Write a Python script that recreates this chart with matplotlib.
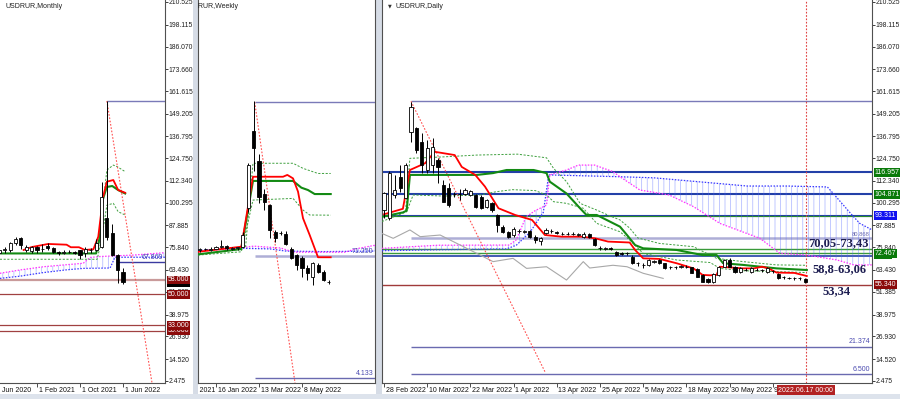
import numpy as np
import matplotlib
matplotlib.use('Agg')
import matplotlib.pyplot as plt
from matplotlib.transforms import Bbox, blended_transform_factory
from matplotlib.patches import Polygon, Rectangle

plt.rcParams['font.family'] = ['Liberation Sans', 'DejaVu Sans']
plt.rcParams['hatch.linewidth'] = 0.5

# ---------------- shared price scale ----------------
price_ticks = [2.475, 14.520, 26.930, 38.975, 51.385, 63.430, 75.840, 87.885, 100.295,
               112.340, 124.750, 136.795, 149.205, 161.615, 173.660, 186.070, 198.115, 210.525]

# ---------------- monthly (index 0 = Feb 2021) ----------------
m_idx = list(range(-7, 17))
m_open = [72.5, 74.4, 74.4, 78.0, 81.1, 74.4, 74.0, 75.8, 75.0, 76.5, 75.3, 73.4,
          73.0, 73.3, 73.4, 74.4, 72.6, 74.5, 74.4, 76.2, 92.0, 83.7, 71.6, 62.3]
m_high = [75.0, 76.0, 79.0, 81.5, 81.6, 77.0, 76.5, 76.5, 77.5, 78.4, 76.0, 74.0,
          74.5, 74.5, 73.8, 74.5, 75.8, 75.3, 80.4, 111.5, 156.2, 88.5, 72.0, 64.5]
m_low = [71.5, 72.8, 73.5, 77.0, 75.0, 73.5, 73.0, 73.0, 73.5, 74.5, 72.9, 71.5,
         72.4, 72.8, 72.0, 69.5, 70.6, 72.7, 74.0, 75.5, 80.0, 71.0, 56.5, 55.5]
m_close = [74.2, 75.0, 78.2, 80.2, 77.1, 76.2, 75.8, 74.5, 75.1, 75.5, 73.5, 73.0,
           73.3, 73.5, 72.8, 71.6, 74.8, 74.3, 78.0, 103.6, 81.5, 71.6, 63.4, 56.8]
m_tick_idx = [-8, 0, 8, 16]
m_tick_lbl = ['1 Jun 2020', '1 Feb 2021', '1 Oct 2021', '1 Jun 2022']

m_tenkan_x = [-2.5, -1, 2.1, 5.5, 6.3, 7.8, 8.9, 10.5, 11.4, 12.3, 13, 14.2, 15.1, 16.4]
m_tenkan_y = [74.4, 76.0, 77.7, 77.3, 75.9, 75.9, 74.4, 74.8, 81.7, 103.6, 111.9, 112.8, 107.3, 105.8]
m_kijun_x = [-6.9, 11, 11.7, 12.2, 13, 14, 15.1, 16.4]
m_kijun_y = [72.5, 72.5, 81.7, 101.8, 109, 109.5, 107.3, 105.4]
m_upper_x = [11.4, 12.3, 13, 14.2, 15, 16.4]
m_upper_y = [74, 100, 118.3, 121, 120, 117.4]
m_lower_x = [-6.9, 11.2, 12, 13, 14.2, 15.1, 16.4]
m_lower_y = [69.3, 69.3, 80, 99, 100, 95.4, 93.6]
m_spanA_x = [-6.9, -3.2, 1.2, 5.5, 8.6, 13.6, 14.5, 23.8]
m_spanA_y = [58.8, 60.0, 62.0, 63.5, 64.3, 64.5, 70.4, 70.4]
m_spanB_x = [-6.9, -3.2, 1.2, 8.6, 9.9, 11.7, 17.9, 23.8]
m_spanB_y = [61.6, 63.4, 65.2, 67.1, 70.3, 70.8, 71.6, 72.9]
m_levels_dark = [50.0, 33.0, 30.0]
m_level_rose = 58.0
m_level_top = 156.2
m_level_blue = 67.869
m_fibo_line = [(13, 156.2), (21.4, 1.38)]

# ---------------- weekly (index 0 = 16 Jan 2022) ----------------
w_idx = list(range(-3, 22))
w_open = [74.5, 75.0, 74.6, 75.2, 76.0, 76.6, 75.0, 75.4, 76.2, 97.4, 139.5, 123.0, 105.0,
          99.0, 84.3, 83.5, 83.0, 75.0, 71.6, 70.0, 64.5, 59.6, 66.2, 62.3, 57.0]
w_high = [75.5, 75.6, 76.0, 76.5, 80.0, 77.0, 76.0, 76.2, 84.4, 122.0, 156.0, 127.0, 108.0,
          99.5, 85.5, 85.0, 85.0, 76.2, 72.0, 71.0, 66.0, 68.0, 67.0, 63.2, 57.8]
w_low = [73.5, 74.4, 74.0, 74.8, 75.5, 74.5, 74.3, 74.6, 75.8, 95.0, 118.0, 100.0, 96.3,
         81.0, 79.0, 82.5, 77.0, 69.6, 63.5, 59.6, 57.9, 55.2, 62.0, 57.5, 55.8]
w_close = [74.8, 75.1, 75.2, 76.0, 76.4, 75.3, 75.4, 75.8, 82.6, 121.0, 130.3, 103.5, 100.7,
           85.4, 81.0, 83.7, 77.7, 70.0, 66.2, 64.5, 61.8, 67.0, 62.3, 57.9, 56.8]
w_tick_idx = [-8, 0, 8, 16]
w_tick_lbl = ['21 Nov 2021', '16 Jan 2022', '13 Mar 2022', '8 May 2022']

w_tenkan_x = [-3.35, 4.71, 6.88, 12.47, 13.27, 14.33, 15.26, 16.19, 17.43, 18.98, 21.34]
w_tenkan_y = [73.4, 76.2, 114.6, 114.6, 115.6, 113.7, 106.4, 91.8, 82.6, 70.4, 70.4]
w_kijun_x = [-3.35, 4.71, 6.88, 14.33, 15.88, 17.12, 18.36, 21.34]
w_kijun_y = [72.0, 74.9, 112.3, 112.3, 108.6, 107.3, 105.1, 105.1]
w_upper_x = [5.5, 6.88, 14.33, 16.19, 18.98, 21.34]
w_upper_y = [76.0, 122.0, 122.0, 119.2, 116.4, 116.4]
w_lower_x = [-3.35, 4.71, 6.88, 14.33, 16.19, 17.43, 21.34]
w_lower_y = [71.6, 73.4, 101.8, 102.7, 96.3, 93.6, 93.5]
w_spanA_x = [-3.35, 5, 10, 13, 20, 29.6]
w_spanA_y = [74.2, 75.3, 75.0, 73.8, 73.5, 73.8]
w_spanB_x = [-3.35, 5, 7, 12, 14.5, 24, 26, 29.6]
w_spanB_y = [73.5, 75.8, 76.5, 75.5, 73.2, 73.2, 75.0, 77.0]
w_level_top = 155.6
w_level_mid = 71.25
w_level_low = 4.133
w_fibo_line = [(7.2, 155.6), (14.7, 1.38)]

# ---------------- daily (index 0 = 28 Feb 2022) ----------------
d_ohlc = [
    (96.3, 106.0, 92.0, 105.7), (92.0, 117.5, 91.0, 116.6), (104.6, 115.6, 102.7, 107.3),
    (114.5, 121.0, 106.4, 108.4), (103.0, 121.9, 102.7, 121.0), (139.2, 155.8, 133.8, 152.9),
    (141.3, 141.8, 127.5, 129.3), (133.8, 138.6, 116.6, 121.0), (118.3, 134.8, 116.4, 130.5),
    (121.0, 135.8, 116.4, 131.0), (123.8, 125.0, 111.2, 120.1), (110.0, 112.8, 100.9, 100.9),
    (108.2, 110.9, 98.2, 99.0), (105.0, 106.4, 103.6, 105.1), (105.0, 107.7, 101.8, 105.2),
    (105.0, 108.2, 104.6, 107.3), (104.6, 107.3, 104.0, 106.8), (104.6, 105.0, 97.5, 98.2),
    (103.6, 104.6, 96.8, 97.3), (98.2, 102.5, 97.5, 101.8), (100.0, 100.5, 95.5, 96.3),
    (93.6, 94.0, 84.4, 88.1), (87.2, 88.0, 83.5, 84.4), (84.4, 85.0, 80.8, 81.7),
    (82.6, 87.0, 81.7, 85.9), (84.8, 86.0, 83.5, 85.0), (84.4, 85.4, 83.5, 84.5),
    (84.8, 85.4, 81.0, 81.7), (81.7, 82.6, 78.0, 79.9), (79.2, 81.7, 77.0, 80.9),
    (83.7, 86.5, 83.0, 85.4), (84.6, 85.8, 83.8, 84.8), (84.3, 84.8, 83.0, 83.5),
    (83.2, 84.0, 82.4, 83.3), (83.2, 84.0, 82.5, 83.1), (83.2, 84.2, 82.5, 83.3),
    (82.5, 83.8, 82.0, 83.2), (81.7, 84.4, 81.2, 83.2), (83.0, 83.5, 81.0, 81.5),
    (80.4, 81.0, 76.5, 77.1), (75.3, 76.5, 74.5, 75.4), (74.8, 76.0, 74.3, 75.5),
    (75.3, 76.0, 74.5, 75.2), (73.5, 74.0, 71.0, 71.6), (72.8, 73.5, 71.8, 72.2),
    (72.5, 73.2, 71.8, 72.6), (70.7, 71.5, 66.8, 67.1), (67.1, 67.8, 65.5, 67.2),
    (66.2, 67.0, 64.5, 66.3), (66.2, 69.5, 65.8, 68.9), (68.0, 68.8, 67.2, 68.1),
    (68.9, 69.3, 66.8, 67.1), (67.1, 67.5, 64.0, 64.5), (64.9, 65.8, 64.0, 65.0),
    (64.9, 65.6, 64.2, 64.8), (65.2, 66.0, 64.5, 65.3), (65.2, 65.9, 64.4, 65.1),
    (64.9, 65.3, 61.5, 62.0), (64.0, 64.3, 59.3, 59.7), (60.7, 61.2, 56.6, 57.0),
    (58.5, 59.0, 56.2, 56.8), (57.0, 61.5, 56.0, 61.0), (60.7, 65.8, 60.3, 65.2),
    (65.2, 69.5, 64.8, 68.9), (68.9, 70.0, 64.8, 65.2), (65.2, 65.8, 62.0, 62.5),
    (62.5, 64.8, 62.0, 64.3), (63.5, 64.3, 62.8, 63.6), (62.5, 64.8, 62.0, 64.5),
    (63.5, 64.3, 62.8, 63.4), (63.2, 63.9, 62.5, 63.3), (62.3, 64.8, 62.0, 64.5),
    (62.8, 63.5, 62.0, 62.7), (61.2, 61.6, 58.4, 58.8), (59.4, 60.2, 58.6, 59.3),
    (59.0, 59.8, 58.2, 59.1), (58.8, 59.6, 58.0, 58.9), (58.8, 59.5, 58.0, 58.8),
    (58.3, 58.8, 56.0, 57.0)]
d_tick_idx = [0, 8, 16, 24, 32, 40, 48, 56, 64, 72]
d_tick_lbl = ['28 Feb 2022', '10 Mar 2022', '22 Mar 2022', '1 Apr 2022', '13 Apr 2022',
              '25 Apr 2022', '5 May 2022', '18 May 2022', '30 May 2022', '9 Jun 2022']
d_current_idx = 78.1
d_current_lbl = '2022.06.17 00:00'

d_tenkan_x = [0, 3.5, 4.8, 7.6, 9.4, 13.1, 14.4, 16.9, 18.7, 21.2, 24.3, 27.4, 29.8, 32.9,
              36.6, 39.1, 41.5, 45.5, 46.5, 48, 51, 54.2, 57.3, 59, 60.4, 61.6, 62.2, 66.5,
              68.5, 70, 71.2, 72.7, 76, 78.3]
d_tenkan_y = [94, 97, 118.3, 122, 128.3, 126.5, 120, 115.6, 109.2, 97.3, 93.6, 90.9, 82.6,
              81.7, 81.7, 80.8, 79, 78.5, 74.4, 69.8, 69.5, 67.1, 64.3, 60.7, 60.5, 60.7,
              65.2, 64.3, 64.3, 65.2, 64.3, 62, 61.8, 60.1]
d_kijun_x = [-0.4, 3.5, 4.2, 4.8, 17.2, 20.2, 22.7, 27.7, 30.1, 30.7, 33.8, 36.3, 37.5,
             39.4, 43.7, 45, 46.5, 48, 54.2, 59, 61.6, 62.8, 66.5, 72.7, 78.3]
d_kijun_y = [92.6, 95, 96, 115.6, 115.6, 116.6, 118.3, 118.3, 116.6, 111.9, 105.4, 97.3,
             93.6, 93.6, 87.2, 82.6, 77.1, 75.3, 74.4, 71.6, 71.6, 67.1, 66.2, 64.3, 63.4]
d_upper_x = [4, 4.8, 11, 17.2, 24.7, 30.1, 31.4, 33.8, 36.3, 39.4, 41.9, 43.7, 45.5, 47,
             51, 57.3, 61.6, 66.5, 72.7, 78.3]
d_upper_y = [96, 124.7, 125.5, 126.5, 127, 125, 119.2, 111.9, 100, 96.3, 93, 90.9, 86.4,
             81, 78, 76.2, 69.8, 68, 66.2, 66]
d_lower_x = [-0.4, 4.2, 5.4, 11, 17.8, 20.8, 23.8, 28, 30.1, 31.4, 33.8, 36.9, 39.4, 43.7,
             45.5, 48, 54.2, 60.4, 62.2, 66.5, 72.7, 78.3]
d_lower_y = [90, 95.4, 104.6, 104, 104.6, 106.4, 107.5, 107, 104.6, 100.9, 100, 97.3, 89,
             84.4, 79.9, 72.5, 68.9, 67.5, 64.3, 63, 62.5, 62]
d_spanA_x = [-0.4, 10, 22.7, 24.5, 27, 29.5, 30.5, 43.7, 50, 67.3, 74.7, 82.1, 83.2, 86.4,
             88.1, 90.4]
d_spanA_y = [74.0, 74.5, 75.0, 77.0, 84.0, 95.0, 115.6, 114.6, 114.0, 109.5, 109.5, 109.0,
             105.4, 94.5, 89.0, 85.4]
d_spanB_x = [-0.4, 10, 23.2, 24.5, 26.3, 28, 30.1, 30.7, 33.8, 36, 39, 42.4, 43.7, 47.4,
             52.8, 57.3, 62.2, 69.6, 73.3, 78.3, 83.9, 87, 90.4]
d_spanB_y = [75.3, 77, 77.1, 80, 92.6, 96, 99, 115.6, 118.3, 121, 121, 117.4, 114.6, 107.3,
             104.6, 98.2, 89, 80.8, 72.6, 71.6, 68.9, 66.2, 66.2]
d_chikou_x = [-0.4, 1.7, 4.8, 6.7, 10.4, 13.5, 17.8, 20.2, 23.9, 26.4, 30.1, 33.8, 36.9,
              38.1, 42.4, 45, 48, 51.7]
d_chikou_y = [83.5, 80.8, 85.4, 81.7, 82.6, 78, 71.6, 68, 69.8, 64.3, 65.2, 57.9, 68, 64.5,
              66, 65.2, 61.6, 58.8]
d_level_top = 156.0
d_levels_blue = [116.957, 104.871, 93.311]
d_level_lav = 80.868
d_levels_green = [74.8, 72.467]
d_level_blue2 = 71.25
d_level_red = 55.34
d_levels_low = [21.374, 6.5]
d_fibo_line = [(5, 156.0), (29.9, 7.0)]
d_zones = ['70,05-73,43', '58,8-63,06', '53,34']
d_zone_x = [84.1, 84.4, 83.8]
d_zone_y = [78.4, 64.0, 51.9]

# ---------------- figure ----------------
FW, FH = 900, 399
fig = plt.figure(figsize=(FW / 100, FH / 100), dpi=100)
fig.patch.set_facecolor('white')
YLIM = (1.377, 211.62)
FS = 5
DARKRED = '#8b0a0a'


def ax_at(x0, x1, y0=0, y1=383):
    return fig.add_axes([x0 / FW, 1 - y1 / FH, (x1 - x0) / FW, (y1 - y0) / FH])


def candles(ax, x, o, h, l, c, width=0.58):
    x = np.asarray(x, float); o = np.asarray(o, float); h = np.asarray(h, float)
    l = np.asarray(l, float); c = np.asarray(c, float)
    ax.vlines(x, l, h, color='black', lw=0.7, zorder=6)
    up = c >= o
    bot = np.minimum(o, c)
    hgt = np.maximum(np.abs(c - o), 0.15)
    ax.bar(x[up], hgt[up], width, bottom=bot[up], facecolor='white', edgecolor='black',
           linewidth=0.6, zorder=7)
    ax.bar(x[~up], hgt[~up], width, bottom=bot[~up], facecolor='black', edgecolor='black',
           linewidth=0.6, zorder=7)


def ichi(ax, tk_x, tk_y, kj_x, kj_y, up_x, up_y, lo_x, lo_y, a_x, a_y, b_x, b_y):
    poly = list(zip(a_x, a_y)) + list(zip(b_x[::-1], b_y[::-1]))
    ax.add_patch(Polygon(poly, closed=True, facecolor='none', edgecolor='#5468ff',
                         hatch='|||', linewidth=0, alpha=0.5, zorder=2))
    ax.plot(a_x, a_y, color='#3a3aff', lw=0.9, ls=(0, (1.2, 1.2)), zorder=3)
    ax.plot(b_x, b_y, color='#ff30ff', lw=0.9, ls=(0, (1.2, 1.2)), zorder=3)
    ax.plot(up_x, up_y, color='#3fa03f', lw=0.7, ls=(0, (2.2, 1.6)), zorder=4)
    ax.plot(lo_x, lo_y, color='#3fa03f', lw=0.7, ls=(0, (2.2, 1.6)), zorder=4)
    ax.plot(kj_x, kj_y, color='#138a13', lw=1.5, zorder=5)
    ax.plot(tk_x, tk_y, color='#ff0000', lw=1.3, zorder=5)


def style(ax, xlim, right_labels=True, left_spine=True):
    ax.set_xlim(*xlim)
    ax.set_ylim(*YLIM)
    ax.set_facecolor('white')
    ax.spines['top'].set_visible(False)
    ax.spines['left'].set_visible(left_spine)
    for s in ['left', 'right', 'bottom']:
        ax.spines[s].set_color('#505050')
        ax.spines[s].set_linewidth(0.8)
    ax.yaxis.tick_right()
    ax.set_yticks(price_ticks)
    if right_labels:
        ax.set_yticklabels([f'{v:.3f}' for v in price_ticks], fontsize=4.9)
        ax.tick_params(axis='y', length=2, width=0.6, pad=0.8, colors='#202020')
    else:
        ax.tick_params(axis='y', length=0, labelright=False)


def xlabels(ax, idx, labels, x_lo, x_hi, offset):
    ax.set_xticks([i for i in idx if ax.get_xlim()[0] <= i <= ax.get_xlim()[1]])
    ax.tick_params(axis='x', length=3, width=0.6, labelbottom=False, colors='#303030')
    tr = blended_transform_factory(ax.transData, ax.transAxes)
    for i, s in zip(idx, labels):
        t = ax.text(i + offset, -7 / 383, s, transform=tr, fontsize=FS, ha='left',
                    va='center', color='#111111', clip_on=True)
        t.set_clip_box(Bbox.from_extents(x_lo, 0, x_hi, 17))


def axis_box(ax, y, s, fc, tc='white', fs=FS, z=10):
    tr = blended_transform_factory(ax.transAxes, ax.transData)
    wpx = ax.bbox.width
    ax.text(1 + 2.5 / wpx, y, s, transform=tr, fontsize=fs, ha='left', va='center', color=tc,
            bbox=dict(boxstyle='square,pad=0.12', fc=fc, ec='none'), zorder=z, clip_on=False)


# ---------------- monthly panel ----------------
ax_m = ax_at(0, 165)
style(ax_m, (-6.884, 23.814), right_labels=True, left_spine=False)
ax_m.axhline(m_level_rose, color='#c99a9a', lw=1.6, zorder=1)
for lv in m_levels_dark:
    ax_m.axhline(lv, color='#a04040', lw=0.9, zorder=1)
ax_m.hlines(m_level_top, 13, 23.814, color='#7a7ab8', lw=1.0, zorder=1)
ax_m.hlines(m_level_blue, 15, 23.814, color='#3a3aa0', lw=1.0, zorder=3)
ax_m.text(23.5, m_level_blue + 0.6, f'{m_level_blue:.3f}', fontsize=FS, color='#3a3ab0',
          ha='right', va='bottom', zorder=9)
ichi(ax_m, m_tenkan_x, m_tenkan_y, m_kijun_x, m_kijun_y, m_upper_x, m_upper_y,
     m_lower_x, m_lower_y, m_spanA_x, m_spanA_y, m_spanB_x, m_spanB_y)
ax_m.plot(*zip(*m_fibo_line), color='#ff5050', lw=0.8, ls=(0, (1.5, 1.5)), zorder=4)
candles(ax_m, m_idx, m_open, m_high, m_low, m_close)
axis_box(ax_m, 56.3, '56.880', 'black', z=10)
axis_box(ax_m, m_level_rose, '58.000', DARKRED, z=11)
axis_box(ax_m, 50.0, '50.000', DARKRED)
axis_box(ax_m, 30.0, '30.000', DARKRED, z=10)
axis_box(ax_m, 33.0, '33.000', DARKRED, z=11)
xlabels(ax_m, m_tick_idx, m_tick_lbl, 0, 165, 0.35)
ax_m.text(5 / 165, 1 - 6 / 383, 'USDRUR,Monthly', transform=ax_m.transAxes, fontsize=FS,
          ha='left', va='center', color='#202020')

# ---------------- weekly panel ----------------
ax_w = ax_at(198, 375)
style(ax_w, (-3.349, 29.581), right_labels=False)
ax_w.hlines(w_level_top, 7.2, 29.581, color='#7a7ab8', lw=1.0, zorder=1)
ax_w.hlines(w_level_mid, 7.2, 29.581, color='#aeaed6', lw=1.8, zorder=1)
ax_w.hlines(w_level_low, 7.2, 29.581, color='#6a6ab0', lw=1.0, zorder=1)
ax_w.text(29.3, w_level_mid + 0.5, '71.250', fontsize=FS, color='#4a4ab0', ha='right',
          va='bottom', zorder=9)
ax_w.text(29.3, w_level_low + 0.6, '4.133', fontsize=FS, color='#4a4ab0', ha='right',
          va='bottom', zorder=9)
ichi(ax_w, w_tenkan_x, w_tenkan_y, w_kijun_x, w_kijun_y, w_upper_x, w_upper_y,
     w_lower_x, w_lower_y, w_spanA_x, w_spanA_y, w_spanB_x, w_spanB_y)
ax_w.plot(*zip(*w_fibo_line), color='#ff5050', lw=0.8, ls=(0, (1.5, 1.5)), zorder=4)
candles(ax_w, w_idx, w_open, w_high, w_low, w_close)
xlabels(ax_w, w_tick_idx, w_tick_lbl, 198, 375, 0.35)
ax_w.text(-14 / 177, 1 - 6 / 383, 'USDRUR,Weekly', transform=ax_w.transAxes,
          fontsize=FS, ha='left', va='center', color='#202020', clip_on=True)

# ---------------- daily panel ----------------
ax_d = ax_at(382, 872)
style(ax_d, (-0.370, 90.37), right_labels=True)
d_idx = np.arange(len(d_ohlc))
d_o, d_h, d_l, d_c = zip(*d_ohlc)
ax_d.hlines(d_level_top, 5, 90.37, color='#7a7ab8', lw=1.0, zorder=1)
for lv in d_levels_blue:
    ax_d.axhline(lv, color='#2340a8', lw=1.5, zorder=1)
ax_d.axhline(d_levels_blue[2] - 0.5, color='#2a8a2a', lw=0.8, zorder=1)
ax_d.hlines(d_level_lav, 5, 90.37, color='#aeaed6', lw=1.8, zorder=1)
for lv in d_levels_green:
    ax_d.axhline(lv, color='#3a9a3a', lw=1.0, zorder=1)
ax_d.axhline(d_level_blue2, color='#2340a8', lw=1.2, zorder=1)
ax_d.axhline(d_level_red, color='#a03a3a', lw=1.0, zorder=1)
for lv in d_levels_low:
    ax_d.hlines(lv, 5, 90.37, color='#6a6ab0', lw=1.0, zorder=1)
ax_d.text(90.0, d_level_lav + 0.5, '80.868', fontsize=4.2, color='#6a6ab0', ha='right',
          va='bottom', zorder=9)
ax_d.text(90.0, 21.374 + 0.6, '21.374', fontsize=FS, color='#4a4ab0', ha='right',
          va='bottom', zorder=9)
ax_d.text(90.0, 6.5 + 0.6, '6.500', fontsize=FS, color='#4a4ab0', ha='right',
          va='bottom', zorder=9)
ichi(ax_d, d_tenkan_x, d_tenkan_y, d_kijun_x, d_kijun_y, d_upper_x, d_upper_y,
     d_lower_x, d_lower_y, d_spanA_x, d_spanA_y, d_spanB_x, d_spanB_y)
ax_d.plot(d_chikou_x, d_chikou_y, color='#a8a8a8', lw=0.8, zorder=3)
ax_d.plot(*zip(*d_fibo_line), color='#ff5050', lw=0.8, ls=(0, (1.5, 1.5)), zorder=4)
ax_d.axvline(d_current_idx, color='#e04040', lw=0.8, ls=(0, (1.5, 1.5)), zorder=4)
candles(ax_d, d_idx, d_o, d_h, d_l, d_c)
for s, xv, yv in zip(d_zones, d_zone_x, d_zone_y):
    ax_d.text(xv, yv, s, fontsize=9, family='Liberation Serif', weight='bold',
              color='#1c1c50', ha='center', va='center', zorder=12)
axis_box(ax_d, 116.957, '116.957', '#0a7a0a')
axis_box(ax_d, 104.871, '104.871', '#0a7a0a')
axis_box(ax_d, 93.311, '93.311', '#1010f0')
axis_box(ax_d, 71.25, '71.250', '#0a7a0a', fs=4, z=10)
axis_box(ax_d, 72.467, '72.467', '#0a7a0a', z=11)
axis_box(ax_d, d_level_red, '55.340', DARKRED)
xlabels(ax_d, d_tick_idx, d_tick_lbl, 382, 872, 0.3)
ax_d.text(d_current_idx, -7 / 383, d_current_lbl,
          transform=blended_transform_factory(ax_d.transData, ax_d.transAxes),
          fontsize=FS, color='white', ha='center', va='center', zorder=20,
          bbox=dict(boxstyle='square,pad=0.25', fc='#b22222', ec='none'))
ax_d.text(6 / 490, 1 - 6 / 383, '\u25bc', transform=ax_d.transAxes, fontsize=3.5,
          family='DejaVu Sans', ha='left', va='center', color='#303030')
ax_d.text(13 / 490, 1 - 6 / 383, 'USDRUR,Daily', transform=ax_d.transAxes, fontsize=FS,
          ha='left', va='center', color='#202020')


# ---------------- window frames ----------------
def frame(x0, y0, x1, y1, fc):
    fig.patches.append(Rectangle((x0 / FW, 1 - y1 / FH), (x1 - x0) / FW, (y1 - y0) / FH,
                                 transform=fig.transFigure, facecolor=fc, edgecolor='none',
                                 zorder=-1))


frame(193, 0, 198, 399, '#d6dce6')
frame(376, 0, 382, 399, '#d6dce6')
frame(0, 394, 900, 399, '#dde3ec')

fig.savefig('out.png', dpi=100)
